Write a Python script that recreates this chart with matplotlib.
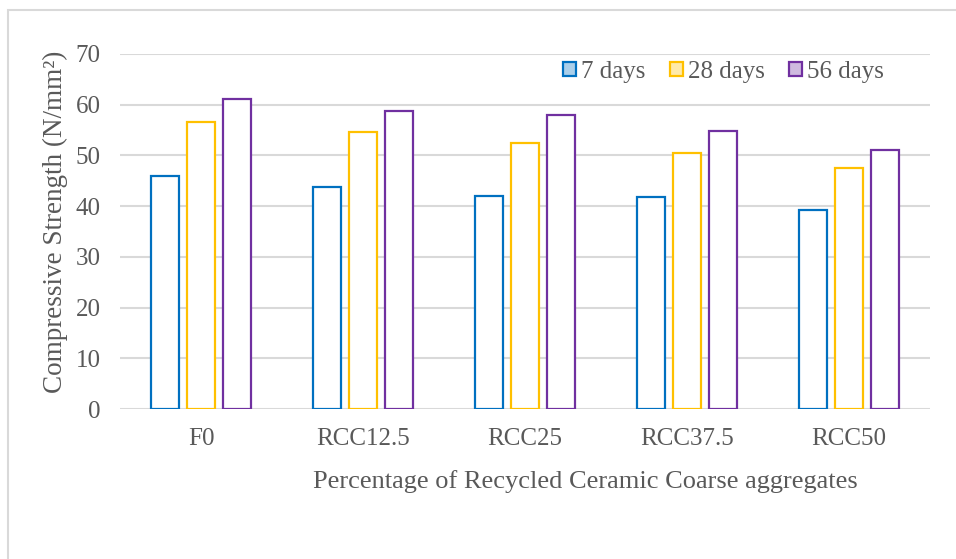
import matplotlib

matplotlib.use("Agg")
import matplotlib.pyplot as plt
from matplotlib.patches import Rectangle
import numpy as np

categories = ["F0", "RCC12.5", "RCC25", "RCC37.5", "RCC50"]
days_7 = [46.0, 43.8, 42.0, 41.8, 39.3]
days_28 = [56.5, 54.7, 52.4, 50.5, 47.6]
days_56 = [61.1, 58.8, 58.0, 54.9, 51.0]
series_labels = ["7 days", "28 days", "56 days"]

colors = ["#0070C0", "#FFC000", "#7030A0"]
text_grey = "#595959"
grid_grey = "#d9d9d9"

plt.rcParams["font.family"] = ["Liberation Serif", "DejaVu Serif"]

W, H = 956, 559
fig = plt.figure(figsize=(W / 100, H / 100), dpi=100)
ax = fig.add_axes([120 / W, 1 - 409 / H, 810 / W, 355 / H])

# outer chart frame (only left and top edges fall inside the canvas)
fig.patches.append(Rectangle((8 / W, -0.1), 1.2, 1.1 - 10 / H, transform=fig.transFigure,
                             fill=False, edgecolor=grid_grey, linewidth=1.5))

x = np.arange(len(categories))
step = 0.222
width = 0.17
for i, (vals, lab, col) in enumerate(zip([days_7, days_28, days_56], series_labels, colors)):
    ax.bar(x + (i - 1) * step, vals, width, facecolor="white", edgecolor=col,
           linewidth=1.6, label=lab, zorder=3)

ax.set_xlim(-0.5, len(categories) - 0.5)
ax.set_ylim(0, 70)
ax.set_yticks(range(0, 71, 10))
ax.set_xticks(x)
ax.set_xticklabels(categories)
ax.grid(axis="y", color=grid_grey, linewidth=1.5)
ax.set_axisbelow(True)
for s in ax.spines.values():
    s.set_visible(False)
ax.tick_params(axis="both", length=0, labelsize=18, labelcolor=text_grey)
ax.tick_params(axis="y", pad=14)
ax.tick_params(axis="x", pad=14)

fig.text(55 / W, 1 - 222 / H, "Compressive Strength (N/mm²)", rotation=90,
         ha="center", va="center", fontsize=19.5, color=text_grey)
fig.text(585 / W, 1 - 482 / H, "Percentage of Recycled Ceramic Coarse aggregates",
         ha="center", va="center", fontsize=19, color=text_grey)

handles = [Rectangle((0, 0), 1, 1, facecolor=c + "55", edgecolor=c, linewidth=1.6) for c in colors]
ax.legend(handles, series_labels, loc="center", bbox_to_anchor=(0.745, 0.949),
          ncol=3, frameon=False, fontsize=18, handlelength=0.5, handleheight=0.5,
          handletextpad=0.2, columnspacing=1.0, labelcolor=text_grey)

fig.savefig("out.png", dpi=100)
